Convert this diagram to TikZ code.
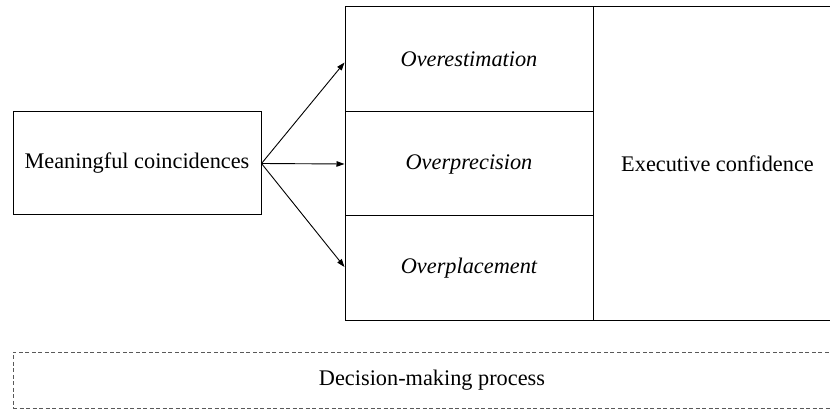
\documentclass[tikz,border=0pt]{standalone}
\usepackage{fontspec}
\setmainfont{Liberation Serif}
\usetikzlibrary{arrows.meta}
\begin{document}
\begin{tikzpicture}[x=1pt,y=1pt,
  box/.style={draw=black,line width=1pt,minimum width=248pt,inner sep=0pt},
  lbl/.style={font=\fontsize{22.3}{26}\selectfont},
  link/.style={line width=0.9pt,-{Triangle[length=8pt,width=5.5pt]}},
  dashbox/.style={draw=black!65,line width=1pt,dash pattern=on 4pt off 2.5pt}]
\useasboundingbox (0,0) rectangle (830,410);
\clip (0,0) rectangle (830,410);
% antecedent
\node[box,lbl,minimum height=103pt] (mc) at (137,246.5) {Meaningful coincidences};
% three facets of overconfidence
\node[box,lbl,minimum height=105pt] (oe) at (469,350.5) {\itshape Overestimation};
\node[box,lbl,minimum height=104pt] (op) at (469,246) {\itshape Overprecision};
\node[box,lbl,minimum height=104pt] (opl) at (469,142) {\itshape Overplacement};
% outcome
\node[box,lbl,minimum height=313pt] (ec) at (717.5,246.5) {Executive confidence};
% context
\node[dashbox,lbl,minimum width=838pt,minimum height=56pt,inner sep=0pt] (dm) at (432,30) {Decision-making process};
% links
\draw[link] (mc.east) -- ([yshift=-3pt]oe.west);
\draw[link] (mc.east) -- (op.west);
\draw[link] (mc.east) -- ([yshift=1pt]opl.west);
\end{tikzpicture}
\end{document}
